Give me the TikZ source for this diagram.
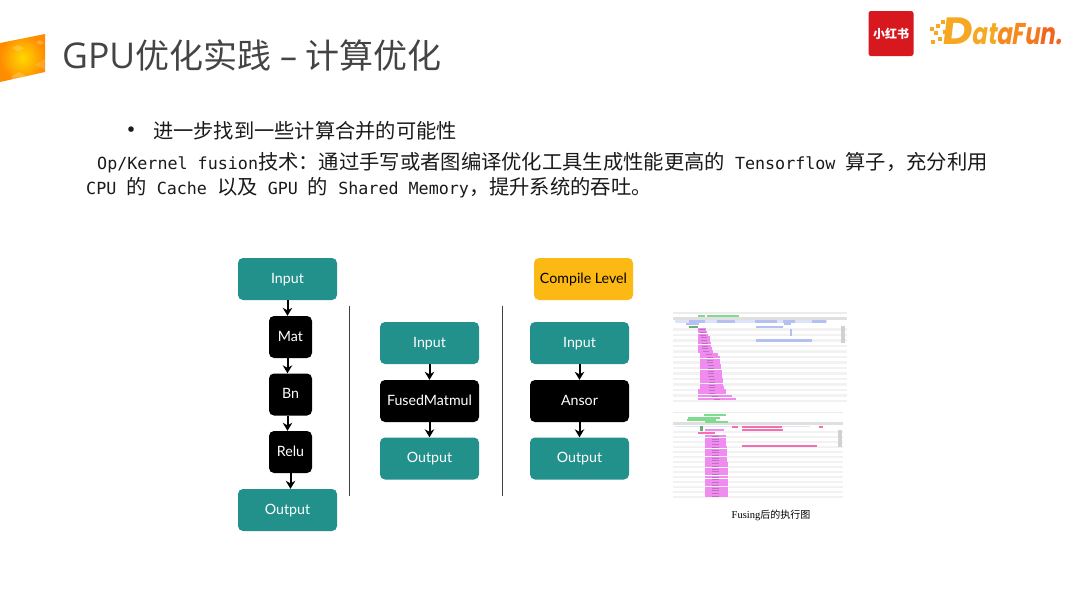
\documentclass[tikz,border=0pt]{standalone}
\usepackage{fontspec}
\setmainfont{Noto Sans CJK SC}
\newfontfamily\titlef{Open Sans}
\newfontfamily\cjkf{Noto Sans CJK SC}
\newfontfamily\monof{DejaVu Sans Mono}
\newfontfamily\nodef{Lato}
\newfontfamily\capf{Liberation Serif}
\newfontfamily\logof[FakeSlant=0.16,FakeStretch=0.76]{Poppins}
\newfontfamily\logod[FakeSlant=0.12,FakeStretch=1.1]{Poppins}
\usetikzlibrary{arrows.meta}
\definecolor{teal1}{HTML}{22918C}
\definecolor{gold1}{HTML}{FDB913}
\definecolor{logo1}{HTML}{F7A823}
\definecolor{logo2}{HTML}{F58A1F}
\definecolor{logo3}{HTML}{F1661F}
\definecolor{redlogo}{HTML}{D7191F}
\definecolor{title1}{HTML}{444444}
\definecolor{body1}{HTML}{1A1A1A}
\definecolor{pinkbar}{HTML}{F08CF0}
\definecolor{bluebar}{HTML}{B4C0F2}
\definecolor{greenbar}{HTML}{7FDC8F}
\definecolor{hotbar}{HTML}{F56FB0}
\definecolor{stripe}{HTML}{F2F2F2}
\definecolor{hdr}{HTML}{E0E0E0}
\newcommand{\mm}[1]{{\fontsize{16.7}{20}\monof #1}}
\newcommand{\cc}[1]{{\fontsize{20.3}{24}\cjkf #1}}
\tikzset{
 x=1pt,y=-1pt,
 flowbox/.style={rounded corners=5pt,minimum width=99pt,minimum height=42pt,inner sep=0pt,text=white,font=\fontsize{14.2}{16}\nodef,text height=10pt,text depth=2pt,anchor=center},
 tealbox/.style={flowbox,fill=teal1},
 blackbox/.style={flowbox,fill=black},
 opbox/.style={blackbox,minimum width=43pt},
 goldbox/.style={flowbox,fill=gold1,text=black},
 flow/.style={draw=black,line width=2pt,-{Stealth[length=8pt,width=9.5pt]}},
 sep/.style={draw=black!75,line width=0.8pt},
 bodyline/.style={anchor=base west,inner sep=0pt,text=body1},
}
\begin{document}
\begin{tikzpicture}
\useasboundingbox (0,0) rectangle (1080,608);
\fill[white] (0,0) rectangle (1080,608);
% corner slab
\shade[inner color=yellow!70!orange,outer color=orange!90!yellow] (0,43) -- (45,34) -- (45,72) -- (0,82) -- cycle;
\fill[white,opacity=.2] (12,48) -- (18,45) -- (24,48) -- (18,51) -- cycle;
\fill[white,opacity=.2] (36,42) -- (40,40) -- (44,43) -- (40,45) -- cycle;
\fill[white,opacity=.2] (12,76) -- (19,72) -- (26,76) -- (12,80) -- cycle;
\fill[white,opacity=.15] (35,65) -- (45,59) -- (45,70) -- cycle;
% title
\node[anchor=base west,inner sep=0pt,text=title1] (title) at (62,68)
 {{\fontsize{35.5}{40}\titlef GPU}{\fontsize{34}{40}\cjkf 优化实践}{\fontsize{34}{40}\titlef\ –\ }{\fontsize{34}{40}\cjkf 计算优化}};
% body
\node[anchor=base west,inner sep=0pt,text=body1] (bullet) at (118,139) {\fontsize{26}{24}\cjkf •};
\node[bodyline] (l1) at (153,138) {\fontsize{20.25}{24}\cjkf 进一步找到一些计算合并的可能性};
\node[bodyline] (l2) at (97,169) {\mm{Op/Kernel fusion}\cc{技术：通过手写或者图编译优化工具生成性能更高的}\mm{ Tensorflow }\cc{算子，充分利用}};
\node[bodyline] (l3) at (86,194) {\mm{CPU }\cc{的}\mm{ Cache }\cc{以及}\mm{ GPU }\cc{的}\mm{ Shared Memory}\cc{，提升系统的吞吐。}};
% logos
\fill[redlogo,rounded corners=2.5pt] (868.5,11) rectangle (913.5,56);
\node[inner sep=0pt,text=white] (xhs) at (891,33.5) {\fontsize{12}{14}\cjkf\bfseries 小红书};
\foreach \p in {(932,29),(938,26),(943,22),(936,33),(945,32),(933,42),(940,39)}
  \fill[logo1] \p ++(-2.2,-2.2) rectangle ++(4.4,4.4);
\node[anchor=base west,inner sep=0pt] (logo) at (941,44) {{\fontsize{38}{40}\logod\bfseries\textcolor{logo1}{D}}{\fontsize{30}{34}\logof\bfseries\textcolor{logo1}{at}\textcolor{logo2}{aF}\textcolor{logo2!50!logo3}{u}\textcolor{logo3}{n.}}};
% flow 1
\node[tealbox] (a1) at (287.5,279) {Input};
\node[opbox] (a2) at (290.5,337) {Mat};
\node[opbox] (a3) at (290.5,394.5) {Bn};
\node[opbox] (a4) at (290.5,452) {Relu};
\node[tealbox] (a5) at (287.5,510) {Output};
\draw[flow] (a1.south) -- (a1.south |- a2.north);
\draw[flow] (a1.south |- a2.south) -- (a1.south |- a3.north);
\draw[flow] (a1.south |- a3.south) -- (a1.south |- a4.north);
\draw[flow] (a4.south) -- (a4.south |- a5.north);
% separators
\coordinate (s1a) at (349.5,306); \coordinate (s1b) at (349.5,496);
\coordinate (s2a) at (502,306); \coordinate (s2b) at (502,496);
\draw[sep] (s1a) -- (s1b);
\draw[sep] (s2a) -- (s2b);
% flow 2
\node[tealbox] (b1) at (429.5,343) {Input};
\node[blackbox] (b2) at (429.5,401) {FusedMatmul};
\node[tealbox] (b3) at (429.5,458.5) {Output};
\draw[flow] (b1) -- (b2);
\draw[flow] (b2) -- (b3);
% flow 3
\node[goldbox] (c0) at (583.5,279) {Compile Level};
\node[tealbox] (c1) at (579.5,343) {Input};
\node[blackbox] (c2) at (579.5,401) {Ansor};
\node[tealbox] (c3) at (579.5,458.5) {Output};
\draw[flow] (c1) -- (c2);
\draw[flow] (c2) -- (c3);
% screenshot 1
\foreach \i in {0,...,13} \fill[stripe] (673,{328+\i*5.5}) rectangle (847,{330.7+\i*5.5});
\fill[hdr!60] (673,311.5) rectangle (847,313.5);
\fill[hdr] (673,316.5) rectangle (847,319.5);
\fill[greenbar] (698,314.5) rectangle (705,316.5);
\fill[greenbar] (707,314.5) rectangle (739,316.5);
\fill[bluebar!45] (675,320) rectangle (827,322.5);
\foreach \a/\b in {689/698,698/705,717/735,755/777,783/795,812/826}\fill[bluebar] (\a,320) rectangle (\b,322.5);
\fill[bluebar] (686,323) rectangle (699,325);
\fill[greenbar!80!black] (689,326) rectangle (698,328);
\fill[bluebar] (756,326) rectangle (783,328);
\fill[bluebar] (784,323) rectangle (791,325);
\fill[bluebar] (790,329) rectangle (792,336);
\fill[bluebar] (756,339.3) rectangle (812,341.7);
\fill[black!18] (841,326) rectangle (845,343);
\foreach \e [count=\i from 0] in {706,707,708,710,710,711,711,712,713,718,720,720,720,721,721,722,722,722,723,723,723,724,726,726,732,736}{
  \pgfmathsetmacro{\s}{\i<9?698:(\i>21?698:700)}
  \fill[pinkbar] (\s,{328+\i*2.78}) rectangle (\e,{330.5+\i*2.78});
  \fill[pinkbar!80!black] ({(\s+\e)/2-3},{329+\i*2.78}) rectangle ({(\s+\e)/2+3},{329.5+\i*2.78});
}
% screenshot 2
\foreach \i in {0,...,13} \fill[stripe] (673,{431+\i*5.0}) rectangle (843,{433.4+\i*5.0});
\fill[hdr!60] (673,411.5) rectangle (843,413);
\fill[hdr] (673,422) rectangle (843,425);
\fill[bluebar!40] (675,425.5) rectangle (810,427);
\fill[greenbar] (704,414) rectangle (726,415.5);
\fill[greenbar] (688,416.5) rectangle (720,418.5);
\fill[greenbar] (687,419) rectangle (716,420.5);
\fill[greenbar] (705,421) rectangle (728,423);
\fill[greenbar!80!black] (700,426) rectangle (703,431);
\fill[hotbar] (742,426) rectangle (782,428);
\fill[hotbar] (742,429) rectangle (783,431);
\fill[hotbar] (732,426) rectangle (738,428);
\fill[hotbar] (819,426) rectangle (823,428);
\fill[hotbar] (742,444.5) rectangle (817,447);
\fill[hotbar] (698,432) rectangle (715,434);
\fill[pinkbar] (705,429) rectangle (724,431);
\fill[black!18] (838,430) rectangle (842,447);
\foreach \i in {0,...,22}{
  \pgfmathsetmacro{\e}{726+min(\i,15)*0.15}
  \fill[pinkbar] (704.5,{435+\i*2.72}) rectangle (\e,{437.4+\i*2.72});
  \fill[pinkbar!80!black] (712,{435.9+\i*2.72}) rectangle (719,{436.4+\i*2.72});
}
% caption
\node[inner sep=0pt,text=black] (cap) at (771,515.5) {{\fontsize{10.5}{12}\capf Fusing}{\fontsize{10}{12}\cjkf 后的执行图}};
\end{tikzpicture}
\end{document}
